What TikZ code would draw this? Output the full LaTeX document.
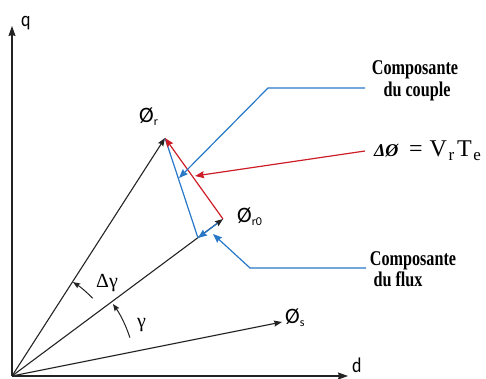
\documentclass[tikz,border=0pt]{standalone}
\usepackage{fontspec}
\setmainfont{Liberation Serif}
\newfontfamily\calfont{Carlito}
\usetikzlibrary{arrows.meta,calc}
\definecolor{bl}{RGB}{40,120,200}
\definecolor{rd}{RGB}{205,30,40}
\definecolor{ink}{RGB}{35,35,35}
\newcommand\SX[1]{\scalebox{0.85}[1]{#1}}
\newcommand\SB[1]{\scalebox{0.77}[1]{\fontsize{21}{24}\selectfont\bfseries #1}}
\newcommand\phil[1]{{\fontsize{22}{24}\selectfont\calfont Ø\raisebox{-3pt}{\fontsize{12}{13}\selectfont #1}}}
\begin{document}
\begin{tikzpicture}[x=1pt,y=-1pt,
  axisln/.style={draw=ink,line width=1.2pt,-{Stealth[length=10pt,width=7pt,inset=1pt]}},
  vec/.style={draw=ink,line width=1.1pt,-{Stealth[length=8pt,width=6pt,inset=1pt]}},
  bline/.style={draw=bl,line width=1.2pt},
  barrow/.style={bline,-{Stealth[length=9pt,width=7pt,inset=1pt]}},
  rarrow/.style={draw=rd,line width=1.2pt,-{Stealth[length=9pt,width=7pt,inset=1pt]}},
  angarr/.style={draw=ink,line width=1pt,-{Stealth[length=7pt,width=5.5pt,inset=1pt]}},
  lbl/.style={inner sep=0pt,anchor=base west},
  txt/.style={inner sep=0pt,anchor=base}]
\useasboundingbox (0,0) rectangle (486,379);
% points
\coordinate (O) at (12,376);
\coordinate (Q) at (12,26);
\coordinate (D) at (348,376);
\coordinate (S) at (282,322);
\coordinate (R) at (165,138);
\coordinate (R0) at (223,219);
\coordinate (P) at (198,238);
\coordinate (C1) at (365,88);
\coordinate (C2) at (268,88);
\coordinate (C3) at (179,178);
\coordinate (E1) at (365,151);
\coordinate (E2) at (195,176);
\coordinate (F1) at (366,268);
\coordinate (F2) at (250,268);
\coordinate (F3) at (213,234);
\coordinate (A1) at ($(O)+(-44:112)$);
\coordinate (A2) at ($(O)+(-18:124)$);
% axes
\draw[axisln] (O) -- (Q);
\draw[axisln] (O) -- (D);
% vectors
\draw[vec] (O) -- (S);
\draw[vec] (O) -- (R);
\draw[vec] (O) -- (R0);
\draw[barrow,shorten <=7pt] (R0) -- (P);
\draw[bline] (R) -- (P);
\draw[rarrow] (R0) -- (R);
% leaders
\draw[barrow] (C1) -- (C2) -- (C3);
\draw[rarrow] (E1) -- (E2);
\draw[barrow] (F1) -- (F2) -- (F3);
% angle arcs
\draw[angarr] (A1) arc[start angle=-44,end angle=-57,radius=112];
\draw[angarr] (A2) arc[start angle=-18,end angle=-35.5,radius=124];
% labels
\node[lbl] (lq) at (21,27) {\SX{\fontsize{21}{24}\selectfont\calfont q}};
\node[lbl] (ld) at (352,372) {\SX{\fontsize{21}{24}\selectfont\calfont d}};
\node[lbl] (lr) at (139,123) {\phil{r}};
\node[lbl] (lr0) at (237,222) {\phil{r0}};
\node[lbl] (ls) at (285,323) {\phil{s}};
\node[lbl] (ldg) at (96,287) {\fontsize{20}{22}\selectfont Δγ};
\node[lbl] (lg) at (137,327) {\fontsize{20}{22}\selectfont γ};
% texts
\node[txt] (tc1) at (415,75) {\SB{Composante}};
\node[txt] (tc2) at (417,97) {\SB{du couple}};
\node[txt] (tf1) at (413,265) {\SB{Composante}};
\node[txt] (tf2) at (398,286) {\SB{du flux}};
\node[lbl] (eq1) at (374,157) {\fontsize{18}{20}\selectfont\bfseries\itshape ΔØ};
\node[lbl] (eq2) at (409,157) {\fontsize{24}{26}\selectfont =\kern7pt V\kern1.5pt\raisebox{-4pt}{\fontsize{17}{18}\selectfont r}\kern3pt T\kern1.5pt\raisebox{-4pt}{\fontsize{17}{18}\selectfont e}};
\end{tikzpicture}
\end{document}
